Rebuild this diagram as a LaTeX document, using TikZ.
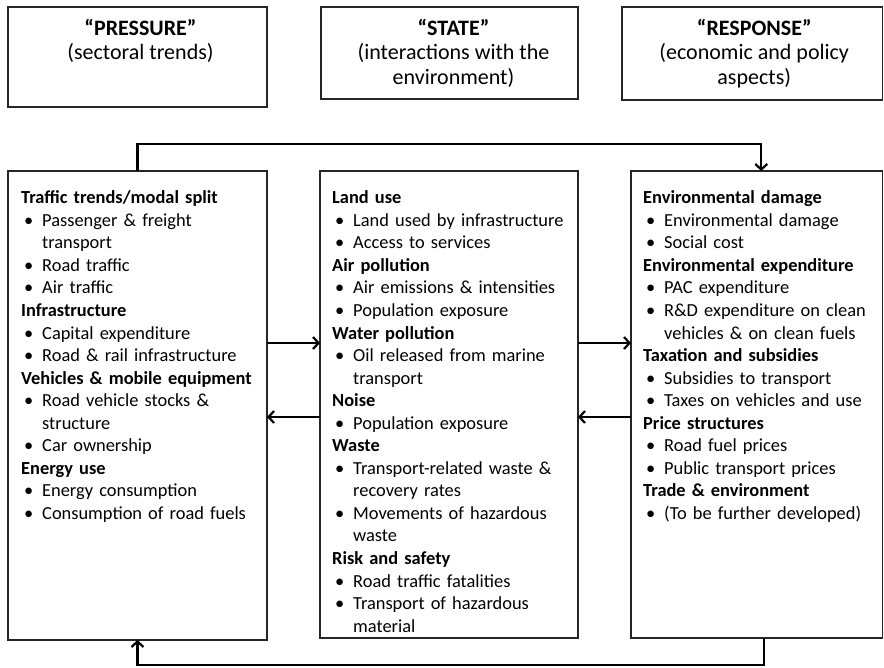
\documentclass[tikz,border=0pt]{standalone}
\usepackage{fontspec}
\setmainfont{Carlito}
\usetikzlibrary{arrows.meta}

% list helpers: bold heading line and bulleted item with hanging indent
\newcommand\hd[1]{\par\noindent\rule{0pt}{14pt}\textbf{#1}}
\newcommand\itm[1]{\par\noindent\hangindent=21pt\hangafter=1\makebox[21pt][l]{\hspace{3pt}\textbullet}#1}

\begin{document}
\begin{tikzpicture}[x=1pt,y=-1pt,
  frame/.style={draw=black!85,line width=1.2pt,rectangle,outer sep=0pt,inner sep=0pt},
  head/.style={anchor=north,align=center,inner sep=0pt,font=\fontsize{22}{24.5}\selectfont},
  body/.style={anchor=north west,inner sep=0pt,text width=#1,align=left,font=\fontsize{18.4}{22.55}\selectfont},
  conn/.style={line width=2.2pt,draw=black},
  arr/.style={-{Straight Barb[length=5.5pt,width=12pt]}}]
\useasboundingbox (0,0) rectangle (884,668);

% header boxes
\node[frame,minimum width=259pt,minimum height=100pt] (hP) at (137.5,57) {};
\node[frame,minimum width=257pt,minimum height=92pt] (hS) at (449.5,53) {};
\node[frame,minimum width=260.5pt,minimum height=93pt] (hR) at (752.25,53.5) {};

\node[head] (tP) at ([xshift=3pt]hP.north |- 0,19) {\rule{0pt}{16pt}\textbf{“PRESSURE”}\\(sectoral trends)};
\node[head] (tS) at ([xshift=4pt]hS.north |- 0,19) {\rule{0pt}{16pt}\textbf{“STATE”}\\(interactions with the\\environment)};
\node[head] (tR) at ([xshift=2pt]hR.north |- 0,19) {\rule{0pt}{16pt}\textbf{“RESPONSE”}\\(economic and policy\\aspects)};

% indicator boxes
\node[frame,minimum width=259pt,minimum height=469pt] (P) at (137.5,405.5) {};
\node[frame,minimum width=258pt,minimum height=467pt] (S) at (449,404.5) {};
\node[frame,minimum width=251.5pt,minimum height=467pt] (R) at (756.75,404.5) {};

\node[body=270pt] (bP) at ([xshift=13pt,yshift=-10pt]P.north west) {%
\hd{Traffic trends/modal split}
\itm{Passenger \& freight\newline transport}
\itm{Road traffic}
\itm{Air traffic}
\hd{Infrastructure}
\itm{Capital expenditure}
\itm{Road \& rail infrastructure}
\hd{Vehicles \& mobile equipment}
\itm{Road vehicle stocks \&\newline structure}
\itm{Car ownership}
\hd{Energy use}
\itm{Energy consumption}
\itm{Consumption of road fuels}\par};

\node[body=270pt] (bS) at ([xshift=12pt,yshift=-10pt]S.north west) {%
\hd{Land use}
\itm{Land used by infrastructure}
\itm{Access to services}
\hd{Air pollution}
\itm{Air emissions \& intensities}
\itm{Population exposure}
\hd{Water pollution}
\itm{Oil released from marine\newline transport}
\hd{Noise}
\itm{Population exposure}
\hd{Waste}
\itm{Transport-related waste \&\newline recovery rates}
\itm{Movements of hazardous\newline waste}
\hd{Risk and safety}
\itm{Road traffic fatalities}
\itm{Transport of hazardous\newline material}\par};

\node[body=270pt] (bR) at ([xshift=12pt,yshift=-10pt]R.north west) {%
\hd{Environmental damage}
\itm{Environmental damage}
\itm{Social cost}
\hd{Environmental expenditure}
\itm{PAC expenditure}
\itm{R\&D expenditure on clean\newline vehicles \& on clean fuels}
\hd{Taxation and subsidies}
\itm{Subsidies to transport}
\itm{Taxes on vehicles and use}
\hd{Price structures}
\itm{Road fuel prices}
\itm{Public transport prices}
\hd{Trade \& environment}
\itm{(To be further developed)}\par};

% connectors
\coordinate (r1) at (0,343);
\coordinate (r2) at (0,417);
\draw[conn,arr] (P.east |- r1) -- (S.west |- r1);
\draw[conn,arr] (S.west |- r2) -- (P.east |- r2);
\draw[conn,arr] (S.east |- r1) -- (R.west |- r1);
\draw[conn,arr] (R.west |- r2) -- (S.east |- r2);
\draw[conn,arr] (P.north) -- ++(0,-27) -| ([xshift=4.5pt]R.north);
\draw[conn,arr] ([xshift=7.5pt]R.south) -- ++(0,27) -| (P.south);
\end{tikzpicture}
\end{document}
